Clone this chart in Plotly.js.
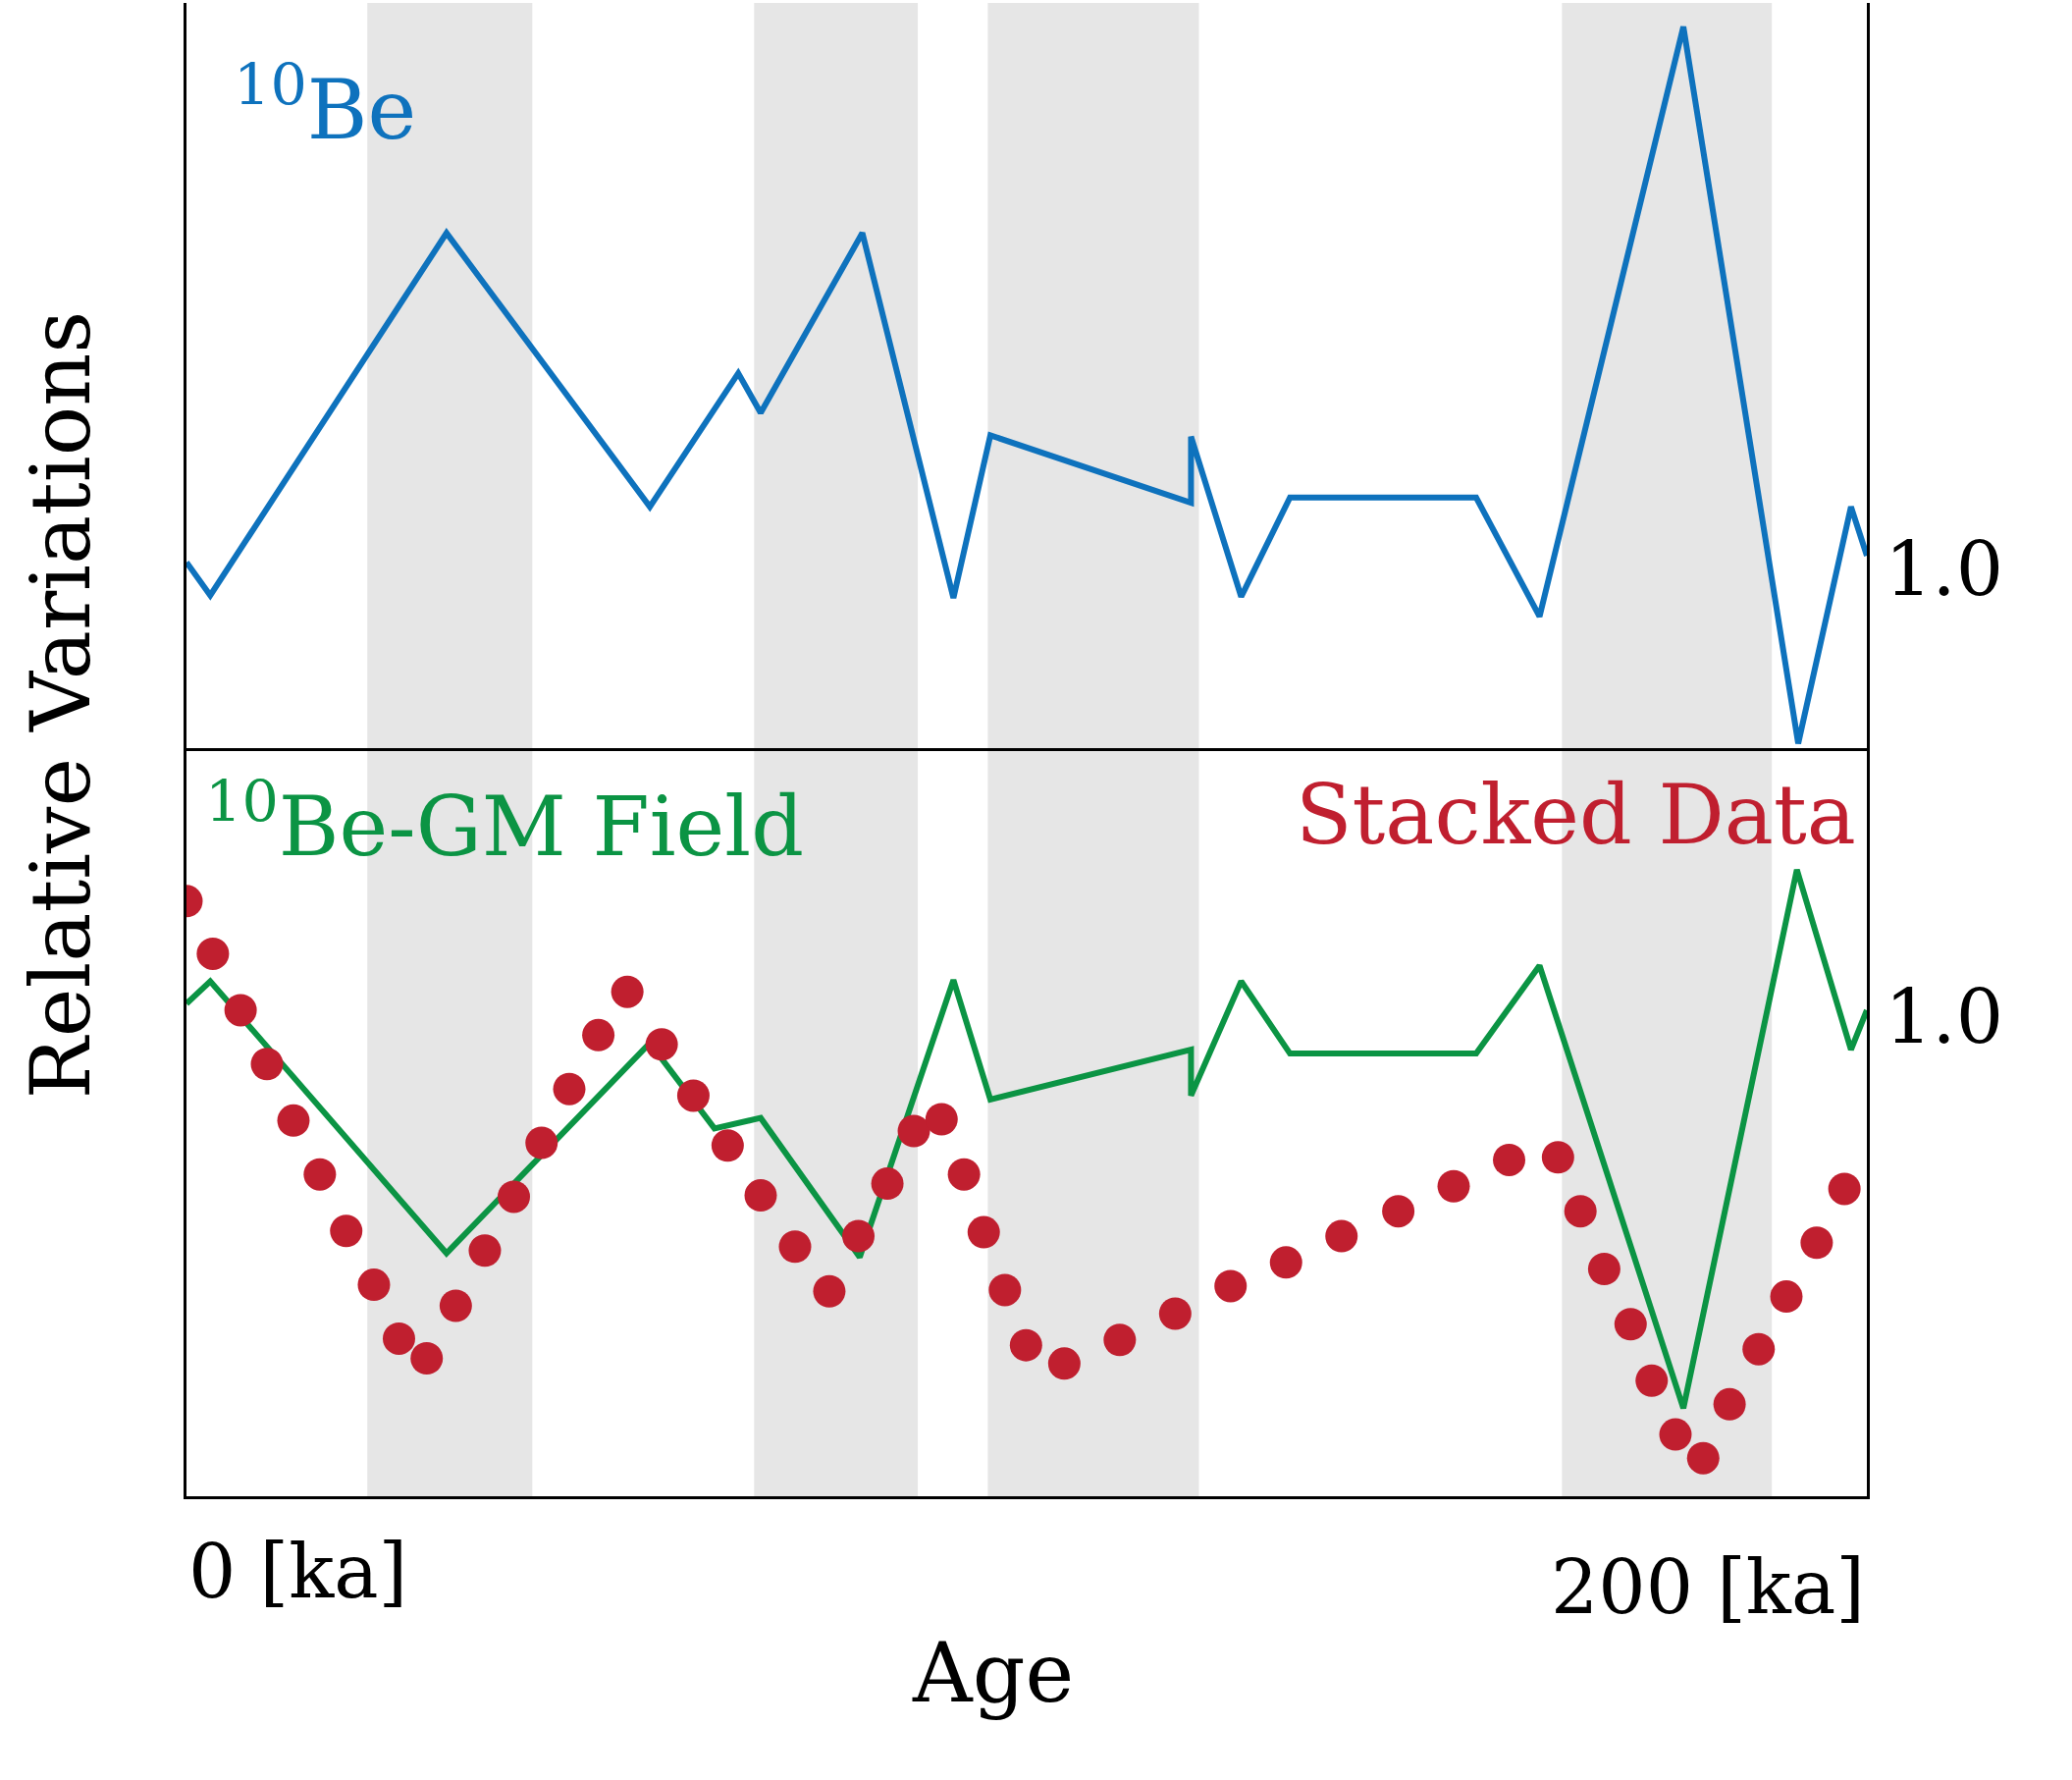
<!DOCTYPE html>
<html><head><meta charset="utf-8">
<script src="https://cdn.plot.ly/plotly-3.0.1.min.js"></script>
<style>html,body{margin:0;padding:0;background:#fff}</style>
</head><body><div id="c" style="width:2111px;height:1813px"></div>
<script>
const beAge=[0,2.83,30.95,55.15,65.67,68.34,80.44,91.28,95.68,119.56,119.56,125.53,131.34,153.50,161.04,178.16,191.83,198.11,200];
const beVal=[1.0125,0.95,1.635,1.1175,1.37,1.295,1.635,0.945,1.2525,1.125,1.25,0.9475,1.135,1.135,0.91,2.025,0.67,1.1175,1.025];
const gmAge=[0,2.83,30.95,55.15,62.84,68.34,80.13,91.28,95.68,119.56,119.56,125.53,131.34,153.50,161.04,178.16,191.67,198.11,200];
const gmVal=[1.025,1.0675,0.55,0.95,0.7875,0.8075,0.5425,1.07,0.8425,0.9375,0.85,1.0675,0.93,0.93,1.0975,0.255,1.28,0.9375,1.0125];
const stAge=[0,3.14,6.44,9.58,12.73,15.87,19.01,22.31,25.29,28.59,32.05,35.51,38.96,42.26,45.56,49.02,52.47,56.56,60.33,64.41,68.34,72.43,76.51,79.97,83.42,86.57,89.87,92.54,94.89,97.41,99.92,104.48,111.08,117.68,124.27,130.87,137.47,144.23,150.82,157.42,163.24,165.91,168.74,171.88,174.39,177.22,180.52,183.66,187.12,190.42,194.03,197.33];
const stVal=[1.22,1.12,1.0125,0.91,0.8025,0.70,0.5925,0.49,0.3875,0.35,0.45,0.555,0.6575,0.76,0.8625,0.965,1.0475,0.9475,0.85,0.755,0.66,0.5625,0.4775,0.5825,0.6825,0.7825,0.805,0.70,0.59,0.48,0.375,0.34,0.385,0.435,0.4875,0.5325,0.5825,0.63,0.6775,0.7275,0.7325,0.63,0.52,0.415,0.3075,0.205,0.16,0.2625,0.3675,0.4675,0.57,0.6725];
const bandStart=[21.52,67.56,95.37,163.71];
const bandEnd=[41.16,87.04,120.5,188.69];

const F="DejaVu Serif, Liberation Serif, serif";
const shapes=[];
bandStart.forEach((s,i)=>shapes.push({type:'rect',xref:'x',yref:'paper',x0:s,x1:bandEnd[i],y0:0,y1:1,fillcolor:'#e6e6e6',line:{width:0},layer:'below'}));
const traces=[
 {x:beAge,y:beVal,mode:'lines',line:{color:'#0e72bd',width:6},xaxis:'x',yaxis:'y2'},
 {x:gmAge,y:gmVal,mode:'lines',line:{color:'#0b9444',width:6},xaxis:'x',yaxis:'y'},
 {x:stAge,y:stVal,mode:'markers',marker:{color:'#c01f2f',size:33},xaxis:'x',yaxis:'y'}
];
const ax={showgrid:false,zeroline:false,showline:true,linecolor:'#000',linewidth:3,mirror:true,ticks:'',tickfont:{family:F,size:76,color:'#000'}};
const layout={
 width:2111,height:1813,showlegend:false,plot_bgcolor:'rgba(0,0,0,0)',paper_bgcolor:'#fff',
 margin:{l:190,r:209,t:3,b:289},
 xaxis:Object.assign({},ax,{range:[0,200],showticklabels:false}),
 yaxis:Object.assign({},ax,{domain:[0,0.4988],range:[0.0875,1.505],side:'right',tickvals:[1],ticktext:['1.0']}),
 yaxis2:Object.assign({},ax,{domain:[0.4988,1],range:[0.655,2.07],side:'right',tickvals:[1],ticktext:['1.0']}),
 shapes:shapes,
 annotations:[
  {text:'<sup>10</sup>Be',xref:'paper',yref:'paper',x:0.027,y:0.97,xanchor:'left',yanchor:'top',showarrow:false,font:{family:F,size:84,color:'#0e72bd'}},
  {text:'<sup>10</sup>Be-GM Field',xref:'paper',yref:'paper',x:0.01,y:0.49,xanchor:'left',yanchor:'top',showarrow:false,font:{family:F,size:84,color:'#0b9444'}},
  {text:'Stacked Data',xref:'paper',yref:'paper',x:0.995,y:0.49,xanchor:'right',yanchor:'top',showarrow:false,font:{family:F,size:84,color:'#c01f2f'}},
  {text:'0 [ka]',xref:'paper',yref:'paper',x:0,y:-0.02,xanchor:'left',yanchor:'top',showarrow:false,font:{family:F,size:76,color:'#000'}},
  {text:'200 [ka]',xref:'paper',yref:'paper',x:1,y:-0.03,xanchor:'right',yanchor:'top',showarrow:false,font:{family:F,size:76,color:'#000'}},
  {text:'Age',xref:'paper',yref:'paper',x:0.48,y:-0.085,xanchor:'center',yanchor:'top',showarrow:false,font:{family:F,size:84,color:'#000'}},
  {text:'Relative Variations',xref:'paper',yref:'paper',x:-0.075,y:0.53,xanchor:'center',yanchor:'middle',textangle:-90,showarrow:false,font:{family:F,size:84,color:'#000'}}
 ]
};
Plotly.newPlot('c',traces,layout,{staticPlot:true});
</script></body></html>
